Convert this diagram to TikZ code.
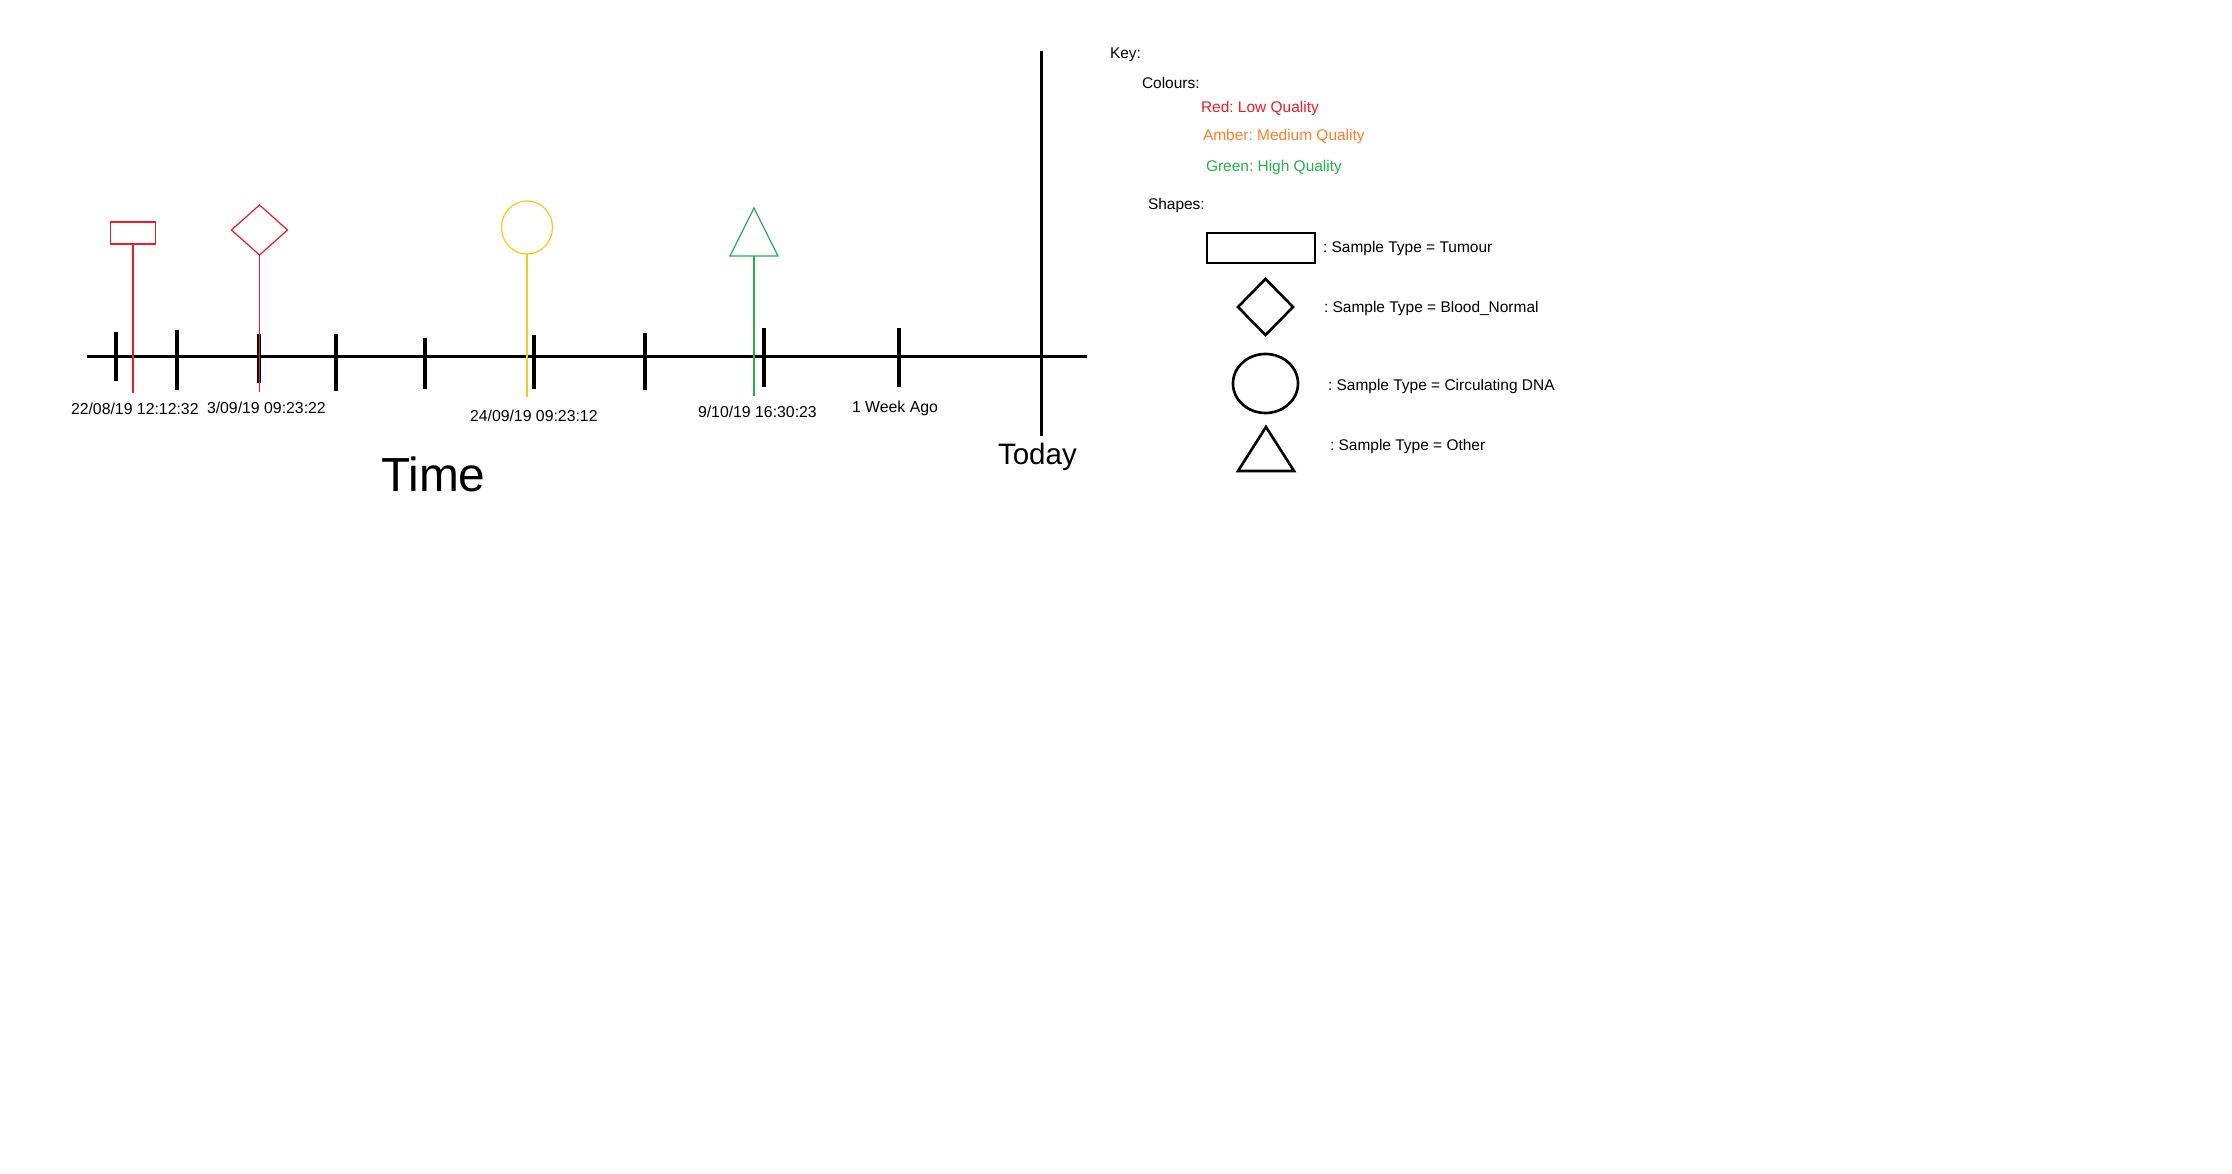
\documentclass[tikz,border=0pt]{standalone}
\usepackage{fontspec}
\setmainfont{Liberation Sans}
\frenchspacing
\usetikzlibrary{
    positioning,
    shapes.geometric
}
\definecolor{lowred}{RGB}{237,28,36}
\definecolor{midamber}{RGB}{255,127,39}
\definecolor{highgreen}{RGB}{34,177,76}
\definecolor{dnayellow}{RGB}{255,201,14}
\tikzset{
    every picture/.style = {
        x = 0.01cm,
        y = -0.01cm
    },
    lbl/.style = {
        inner sep = 0pt,
        outer sep = 0pt,
        anchor = base west,
        font = \fontsize{4.4}{5}\selectfont
    },
    datelbl/.style = {
        lbl,
        font = \fontsize{4.5}{5}\selectfont
    },
    timetick/.style = {
        line width = 1pt
    },
    marker/.style = {
        draw = #1,
        line width = 0.35pt,
        inner sep = 0pt,
        outer sep = 0pt
    },
    stem/.style = {
        draw = #1,
        line width = 0.35pt
    },
    keyshape/.style = {
        draw,
        line width = 0.75pt,
        inner sep = 0pt,
        outer sep = 0pt
    },
    tri/.style = {
        isosceles triangle,
        isosceles triangle stretches,
        shape border rotate = 90,
        anchor = lower side
    }
}

\begin{document}
\begin{tikzpicture}
    \useasboundingbox (0,0) rectangle (2232,1174);
    % time axis
    \coordinate (axisL) at (87,357);
    \coordinate (axisR) at (1087,357);
    \draw[line width=0.85pt] (axisL) -- (axisR);
    \foreach \x/\a/\b in {116/332/381, 177/330/390, 259/334/383, 336/334/391,
                          425/338/389, 534/335/389, 645/333/390, 764/328/387, 899/328/387} {
        \draw[timetick] (\x,\a) -- (\x,\b);
    }
    \coordinate (todayT) at (1041,51);
    \coordinate (todayB) at (1041,436);
    \draw[line width=0.85pt] (todayT) -- (todayB);

    % samples
    \node[marker=lowred, rectangle, minimum width=0.455cm, minimum height=0.22cm] (s1) at (133,233) {};
    \node[marker=lowred, diamond, minimum width=0.56cm, minimum height=0.5cm] (s2) at (259.5,230) {};
    \node[marker=dnayellow, ellipse, minimum width=0.51cm, minimum height=0.53cm] (s3) at (527,227.5) {};
    \node[marker=highgreen, tri, minimum width=0.48cm, minimum height=0.48cm] (s4) at (754,256) {};
    \coordinate (s1end) at (133,393);
    \coordinate (s2end) at (259.5,392);
    \coordinate (s3end) at (527,397);
    \coordinate (s4end) at (754,396);
    \draw[stem=lowred] (s1.south) -- (s1end);
    \draw[stem=lowred] (s2.south) -- (s2end);
    \draw[stem=dnayellow] (s3.south) -- (s3end);
    \draw[stem=highgreen] (s4.lower side) -- (s4end);

    % dates
    \path (71,415) node[datelbl] (d1) {22/08/19 12:12:32};
    \path (207,414) node[datelbl] (d2) {3/09/19 09:23:22};
    \path (470,422) node[datelbl] (d3) {24/09/19 09:23:12};
    \path (698,418) node[datelbl] (d4) {9/10/19 16:30:23};
    \path (852,413) node[datelbl] (week) {1 Week Ago};
    \path (381,492) node[lbl, font=\fontsize{13.6}{16}\selectfont] (time) {Time};
    \path (998,465) node[lbl, font=\fontsize{8.4}{10}\selectfont] (today) {Today};

    % key
    \path (1110,59) node[lbl] (key) {Key:};
    \path (1142,89) node[lbl] (colours) {Colours:};
    \path (1201,113) node[lbl, text=lowred] (red) {Red: Low Quality};
    \path (1203,141) node[lbl, text=midamber] (amber) {Amber: Medium Quality};
    \path (1206,172) node[lbl, text=highgreen] (green) {Green: High Quality};
    \path (1148,210) node[lbl] (shapes) {Shapes:};

    \node[keyshape, rectangle, minimum width=1.08cm, minimum height=0.3cm] (k1) at (1261,248) {};
    \node[keyshape, diamond, minimum width=0.55cm, minimum height=0.56cm] (k2) at (1265.5,307) {};
    \node[keyshape, ellipse, minimum width=0.65cm, minimum height=0.59cm] (k3) at (1265.5,383.5) {};
    \node[keyshape, tri, minimum width=0.56cm, minimum height=0.44cm] (k4) at (1266,471) {};
    \path (1323,253) node[lbl] (t1) {: Sample Type = Tumour};
    \path (1324,313) node[lbl] (t2) {: Sample Type = Blood\_Normal};
    \path (1328,391) node[lbl] (t3) {: Sample Type = Circulating DNA};
    \path (1330,451) node[lbl] (t4) {: Sample Type = Other};
\end{tikzpicture}
\end{document}
